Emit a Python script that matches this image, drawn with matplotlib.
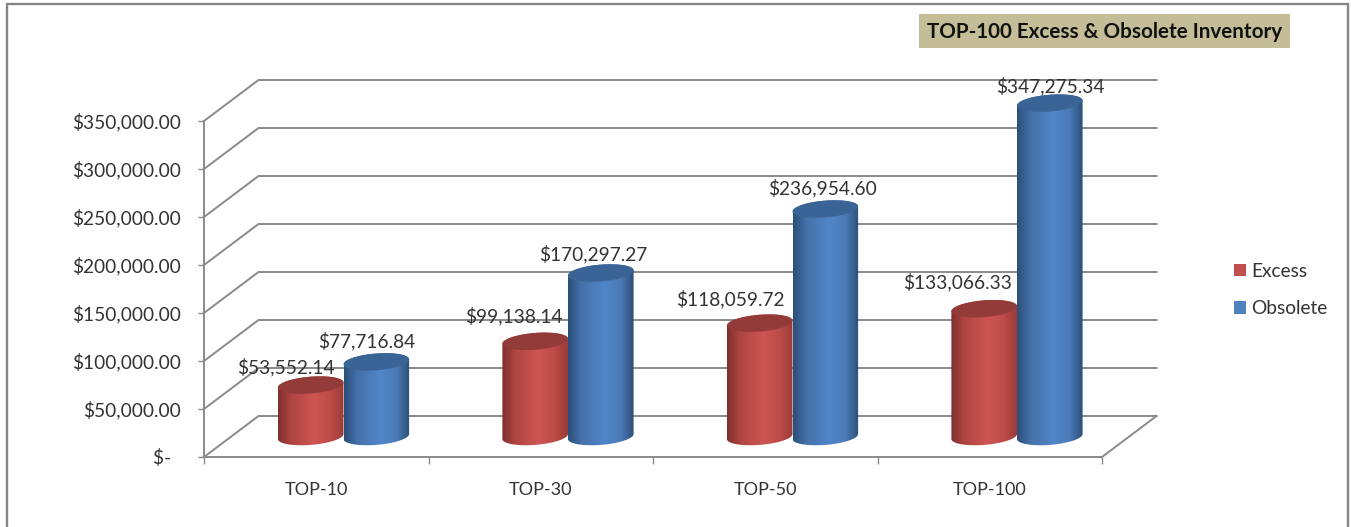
import numpy as np
import matplotlib
matplotlib.use("Agg")
import matplotlib.pyplot as plt
from matplotlib.colors import LinearSegmentedColormap
from matplotlib.patches import Patch, Polygon, Rectangle
from matplotlib.ticker import FuncFormatter

plt.rcParams["font.family"] = ["Lato", "DejaVu Sans"]

categories = ["TOP-10", "TOP-30", "TOP-50", "TOP-100"]
excess = [53552.14, 99138.14, 118059.72, 133066.33]
obsolete = [77716.84, 170297.27, 236954.60, 347275.34]
value_ticks = [0, 50000, 100000, 150000, 200000, 250000, 300000, 350000]

W, H = 1351, 527
GREY = "#8a8a8a"
TEXT = "#333333"

# Hand-placed label offsets from each cylinder's top centre, in pixels
excess_offsets = [(-24.5, 18), (-21, 25), (-29, 24), (-27, 27)]
obsolete_offsets = [(-9.5, 21), (-8, 19), (-3, 21), (1, 17)]

fig = plt.figure(figsize=(W / 100, H / 100), dpi=100, facecolor="white")
ax = fig.add_axes([204 / W, (H - 457) / H, 898 / W, 336 / H])
ax.set_xlim(0, 4)
ax.set_ylim(0, 350000)
ax.patch.set_visible(False)

PX_X = 4 / 898          # category units per pixel
PX_Y = 350000 / 336     # value units per pixel
DEPTH_X = 54.5 * PX_X
DEPTH_Y = 41 * PX_Y


def project(x, v, depth):
    """Front-plane data position pushed back by a depth fraction."""
    return x + depth * DEPTH_X, v + depth * DEPTH_Y


# Outer frame of the chart object
fig.add_artist(Rectangle((7 / W, -0.02), (1348 - 7) / W, (H - 4) / H + 0.02,
                         transform=fig.transFigure, fill=False,
                         edgecolor="#868686", linewidth=1.7))

# Back wall gridlines, side wall diagonals and floor edge
line_style = dict(color=GREY, lw=1.4, clip_on=False, zorder=1)
for v in value_ticks:
    x0, y0 = project(0, v, 0)
    x1, y1 = project(0, v, 1)
    x2, y2 = project(4, v, 1)
    ax.plot([x0, x1, x2], [y0, y1, y2], **line_style)
x0, y0 = project(4, 0, 0)
x1, y1 = project(4, 0, 1)
ax.plot([x0, x1], [y0, y1], **line_style)

# Axis lines, ticks and tick labels
for side in ("top", "right"):
    ax.spines[side].set_visible(False)
for side in ("left", "bottom"):
    ax.spines[side].set_color(GREY)
    ax.spines[side].set_linewidth(1.4)
ax.set_yticks(value_ticks)
ax.yaxis.set_major_formatter(FuncFormatter(
    lambda v, _: f"${v:,.2f}" if v else "$-  "))
ax.tick_params(axis="y", length=4.5, width=1, color=GREY, pad=12,
               labelsize=13.8, labelcolor=TEXT)
ax.set_xticks(range(5))
ax.set_xticklabels([])
ax.set_xticks(np.arange(len(categories)) + 0.5, categories, minor=True)
ax.tick_params(axis="x", which="major", length=5, width=1, color=GREY)
ax.tick_params(axis="x", which="minor", length=0, pad=18,
               labelsize=13, labelcolor=TEXT)

RADIUS = 32.8 * PX_X
ELLIPSE_B = 8.4 * PX_Y
ELLIPSE_TILT = 2.5 * PX_Y


def ellipse_points(cx, cy, t):
    return np.column_stack([cx + RADIUS * np.cos(t),
                            cy + ELLIPSE_B * np.sin(t) + ELLIPSE_TILT * np.cos(t)])


def cylinder(x, value, stops, cap_color, z):
    """Shaded cylinder standing half way back on the floor."""
    cx, base = project(x, 0, 0.5)
    top = base + value
    lower = ellipse_points(cx, base, np.linspace(np.pi, 2 * np.pi, 60))
    upper = ellipse_points(cx, top, np.linspace(0, np.pi, 60))
    body = Polygon(np.vstack([lower, upper]), closed=True, facecolor="none",
                   edgecolor="none", transform=ax.transData, clip_on=False)
    ax.add_patch(body)
    cmap = LinearSegmentedColormap.from_list("shade", stops)
    shade = ax.imshow(np.linspace(0, 1, 256)[None, :], cmap=cmap, aspect="auto",
                      extent=[cx - RADIUS, cx + RADIUS,
                              base - 2 * ELLIPSE_B, top + 2 * ELLIPSE_B],
                      zorder=z, interpolation="bilinear")
    shade.set_clip_box(fig.bbox)
    shade.set_clip_path(body)
    cap = Polygon(ellipse_points(cx, top, np.linspace(0, 2 * np.pi, 120)),
                  closed=True, facecolor=cap_color, edgecolor="none",
                  clip_on=False, zorder=z + 0.1)
    ax.add_patch(cap)
    return cx, top


red_stops = [(0, "#7d2f2d"), (0.2, "#ae4542"), (0.55, "#ce5552"),
             (0.8, "#bd4b48"), (1, "#9a3c39")]
blue_stops = [(0, "#2b4f7a"), (0.2, "#4470a8"), (0.55, "#5286c9"),
              (0.8, "#4a7ab6"), (1, "#2d4f78")]

for i, (e, o) in enumerate(zip(excess, obsolete)):
    z = 3 + i
    tops = [cylinder(i + 0.5 - RADIUS, e, red_stops, "#923b38", z),
            cylinder(i + 0.5 + RADIUS, o, blue_stops, "#3a6496", z + 0.5)]
    for (cx, top), val, off in zip(tops, (e, o),
                                   (excess_offsets[i], obsolete_offsets[i])):
        ax.annotate(f"${val:,.2f}", xy=(cx, top),
                    xytext=(off[0] * 0.72, off[1] * 0.72),
                    textcoords="offset points", ha="center", va="center",
                    fontsize=13.8, color=TEXT, zorder=10, annotation_clip=False)

# Title box
fig.text(1105 / W, 1 - 31.5 / H, "TOP-100 Excess & Obsolete Inventory",
         ha="center", va="center", fontsize=14.9, fontweight="bold",
         color="#111111", zorder=20)
fig.add_artist(Rectangle((919 / W, 1 - 48 / H), 371 / W, 34 / H,
                         transform=fig.transFigure, facecolor="#c4bd97",
                         edgecolor="none", zorder=1))

# Legend
handles = [Patch(facecolor="#c0504d", edgecolor="none", label="Excess"),
           Patch(facecolor="#4f81bd", edgecolor="none", label="Obsolete")]
fig.legend(handles=handles, loc="upper left",
           bbox_to_anchor=(1234 / W, 1 - 263 / H), frameon=False,
           fontsize=13.8, labelcolor=TEXT, handlelength=0.62, handleheight=0.62,
           handletextpad=0.28, labelspacing=1.05, borderpad=0, borderaxespad=0)

ax.set_xlim(0, 4)
ax.set_ylim(0, 350000)
fig.savefig("out.png", dpi=100)
